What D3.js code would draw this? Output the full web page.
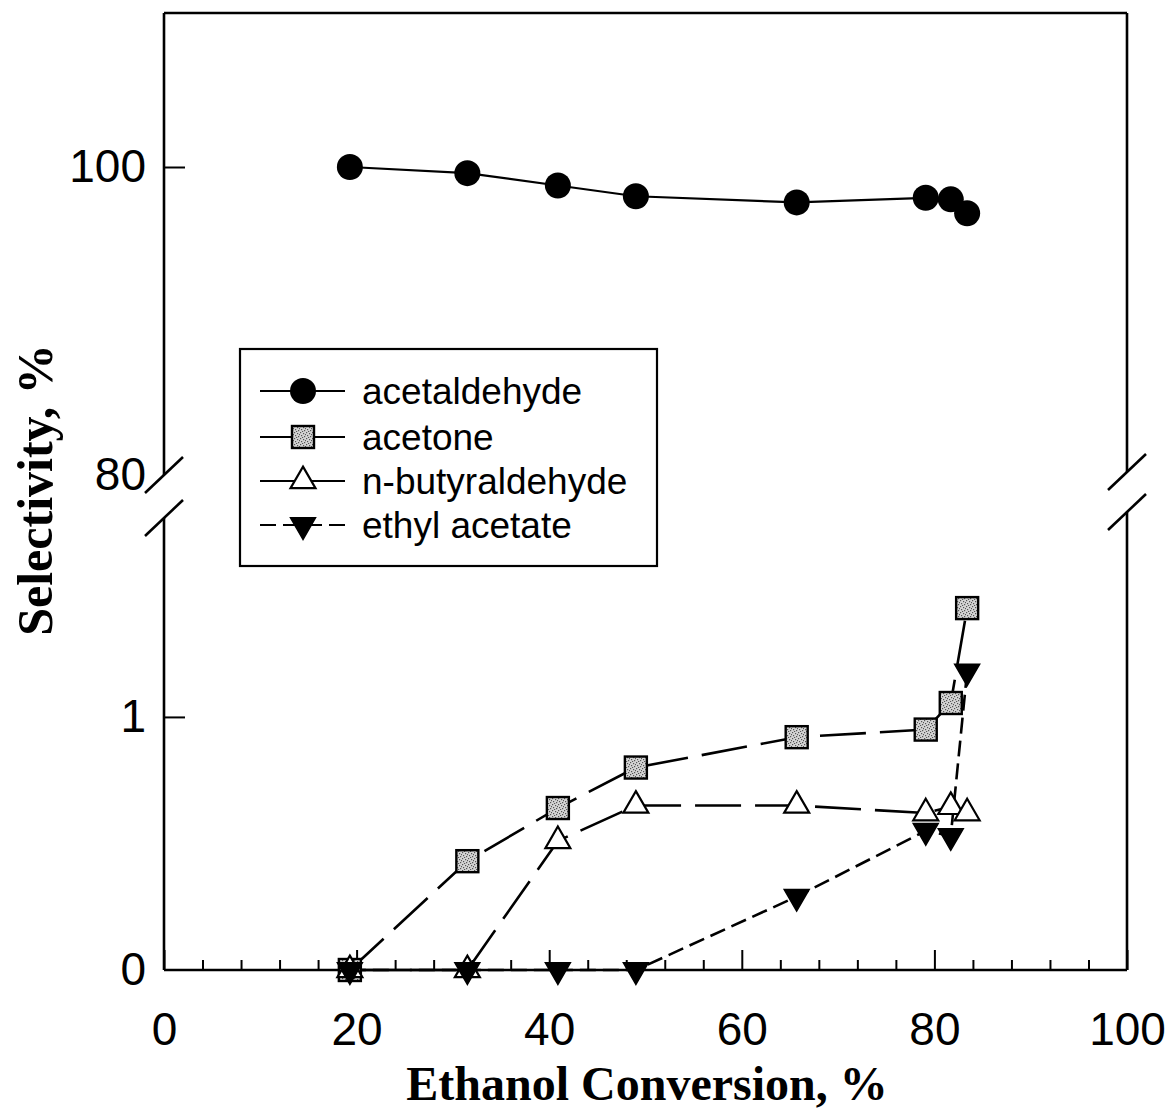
<!DOCTYPE html>
<html>
<head>
<meta charset="utf-8">
<script src="https://cdn.jsdelivr.net/npm/d3@7"></script>
<style>
  html, body { margin: 0; padding: 0; background: #fff; }
  svg { display: block; }
</style>
</head>
<body>
<svg id="chart" width="1170" height="1114"></svg>
<script>
// ---------- data ----------
const conversion = [19.3, 31.5, 40.9, 49.0, 65.7, 79.1, 81.7, 83.4];
const acetaldehyde = [100.0, 99.6, 98.8, 98.1, 97.7, 98.0, 97.9, 97.0];
const acetone = [0.0, 0.43, 0.64, 0.80, 0.92, 0.95, 1.055, 1.43];
const butyraldehyde = [0.0, 0.0, 0.51, 0.65, 0.65, 0.62, 0.645, 0.62];
const ethylAcetate = [0.0, 0.0, 0.0, 0.0, 0.29, 0.55, 0.53, 1.18];
const xTicks = [0, 20, 40, 60, 80, 100];
const yTopTicks = [100, 80];
const yBottomTicks = [1, 0];
const legendLabels = ["acetaldehyde", "acetone", "n-butyraldehyde", "ethyl acetate"];

// ---------- layout ----------
const svg = d3.select("#chart");
const L = 164, R = 1127, T = 13, B = 970;
const x = d3.scaleLinear([0, 100], [L, R]);
const yTop = d3.scaleLinear([80, 110], [475, T]);
const yBot = d3.scaleLinear([0, 1.79], [B, 517]);

const sans = "'Liberation Sans', Arial, sans-serif";
const serif = "'Liberation Serif', 'Times New Roman', serif";

// pattern for stippled square markers
const defs = svg.append("defs");
const pat = defs.append("pattern").attr("id", "stip").attr("patternUnits", "userSpaceOnUse")
  .attr("width", 6).attr("height", 6);
pat.append("rect").attr("width", 6).attr("height", 6).attr("fill", "#d4d4d4");
[[0,0],[3,1],[1,3],[4,4],[2,5],[5,2]].forEach(([a,b]) =>
  pat.append("rect").attr("x", a).attr("y", b).attr("width", 1.2).attr("height", 1.2).attr("fill", "#555"));

// ---------- frame ----------
const frame = svg.append("g").attr("stroke", "#000").attr("stroke-width", 2.6).attr("fill", "none");
frame.append("line").attr("x1", L).attr("x2", R).attr("y1", T).attr("y2", T);
frame.append("line").attr("x1", L).attr("x2", R).attr("y1", B).attr("y2", B);
// left axis (broken)
frame.append("line").attr("x1", L).attr("x2", L).attr("y1", T).attr("y2", 475);
frame.append("line").attr("x1", L).attr("x2", L).attr("y1", 518).attr("y2", B);
// right axis (broken)
frame.append("line").attr("x1", R).attr("x2", R).attr("y1", T).attr("y2", 472);
frame.append("line").attr("x1", R).attr("x2", R).attr("y1", 512).attr("y2", B);
// break marks
const brk = (cx, cy) => frame.append("line")
  .attr("x1", cx - 19).attr("y1", cy + 18).attr("x2", cx + 19).attr("y2", cy - 18);
brk(L, 475); brk(L, 518); brk(R, 472); brk(R, 512);

// ---------- x axis ticks ----------
const minor = d3.range(0, 101, 4).filter(v => v % 20 !== 0);
const gx = svg.append("g").attr("transform", `translate(0,${B})`)
  .call(d3.axisBottom(x).tickValues(xTicks).tickSizeInner(-20).tickSizeOuter(0).tickPadding(42)
    .tickFormat(d3.format("d")));
gx.select(".domain").remove();
gx.selectAll(".tick line").attr("stroke-width", 2);
gx.selectAll(".tick text").attr("font-family", sans).attr("font-size", 46).attr("fill", "#000");
svg.append("g").attr("transform", `translate(0,${B})`)
  .call(d3.axisBottom(x).tickValues(minor).tickSizeInner(-10).tickSizeOuter(0).tickFormat(""))
  .call(g => g.select(".domain").remove())
  .selectAll(".tick line").attr("stroke-width", 2);

// ---------- y axes ticks ----------
function yAxis(scale, vals, drawTicks) {
  const g = svg.append("g").attr("transform", `translate(${L},0)`)
    .call(d3.axisLeft(scale).tickValues(vals).tickSizeInner(-21).tickSizeOuter(0).tickPadding(18)
      .tickFormat(d3.format("d")));
  g.select(".domain").remove();
  g.selectAll(".tick line").attr("stroke-width", 2)
    .attr("stroke", d => drawTicks.includes(d) ? "#000" : "none");
  g.selectAll(".tick text").attr("font-family", sans).attr("font-size", 46).attr("fill", "#000");
}
yAxis(yTop, yTopTicks, [100]);
yAxis(yBot, yBottomTicks, [1]);

// ---------- series ----------
const rows = (vals) => conversion.map((c, i) => ({ x: c, y: vals[i] }));

// acetaldehyde (upper segment)
const lineTop = d3.line().x(d => x(d.x)).y(d => yTop(d.y));
svg.append("path").datum(rows(acetaldehyde)).attr("d", lineTop)
  .attr("fill", "none").attr("stroke", "#000").attr("stroke-width", 2.2);

const lineBot = d3.line().x(d => x(d.x)).y(d => yBot(d.y));
const series = [
  { vals: acetone, dash: "46,14", sym: "square" },
  { vals: butyraldehyde, dash: "46,14", sym: "tri" },
  { vals: ethylAcetate, dash: "16,7", sym: "inv" }
];
series.forEach(s => {
  svg.append("path").datum(rows(s.vals)).attr("d", lineBot)
    .attr("fill", "none").attr("stroke", "#000").attr("stroke-width", 2.6)
    .attr("stroke-dasharray", s.dash);
});

const triPath = d3.symbol(d3.symbolTriangle, 270)();
function drawMarker(g, sym, cx, cy) {
  if (sym === "circle") {
    g.append("circle").attr("cx", cx).attr("cy", cy).attr("r", 13).attr("fill", "#000");
  } else if (sym === "square") {
    g.append("rect").attr("x", cx - 11).attr("y", cy - 11).attr("width", 22).attr("height", 22)
      .attr("fill", "url(#stip)").attr("stroke", "#000").attr("stroke-width", 2.4);
  } else if (sym === "tri") {
    g.append("path").attr("d", triPath).attr("transform", `translate(${cx},${cy})`)
      .attr("fill", "#fff").attr("stroke", "#000").attr("stroke-width", 2.2);
  } else if (sym === "inv") {
    g.append("path").attr("d", triPath).attr("transform", `translate(${cx},${cy}) rotate(180)`)
      .attr("fill", "#000").attr("stroke", "#000").attr("stroke-width", 1.5);
  }
}
const mk = svg.append("g");
rows(acetaldehyde).forEach(d => drawMarker(mk, "circle", x(d.x), yTop(d.y)));
series.forEach(s => rows(s.vals).forEach(d => drawMarker(mk, s.sym, x(d.x), yBot(d.y))));

// ---------- legend ----------
const lg = svg.append("g");
lg.append("rect").attr("x", 240).attr("y", 349).attr("width", 417).attr("height", 217)
  .attr("fill", "#fff").attr("stroke", "#000").attr("stroke-width", 2.2);
const legStyle = [
  { sym: "circle", dash: null },
  { sym: "square", dash: null },
  { sym: "tri", dash: "40,8" },
  { sym: "inv", dash: "16,7" }
];
const legY = [391, 437, 481, 525];
legendLabels.forEach((lab, i) => {
  const y = legY[i];
  lg.append("line").attr("x1", 260).attr("x2", 345).attr("y1", y).attr("y2", y)
    .attr("stroke", "#000").attr("stroke-width", 2)
    .attr("stroke-dasharray", legStyle[i].dash);
  drawMarker(lg, legStyle[i].sym, 303, y);
  lg.append("text").attr("x", 362).attr("y", y).attr("dy", "0.36em")
    .attr("font-family", sans).attr("font-size", 37).attr("fill", "#000").text(lab);
});

// ---------- axis titles ----------
svg.append("text").attr("x", 647).attr("y", 1100).attr("text-anchor", "middle")
  .attr("font-family", serif).attr("font-weight", "bold").attr("font-size", 48).attr("fill", "#000")
  .text("Ethanol Conversion, %");
svg.append("text").attr("transform", "translate(52,490) rotate(-90)").attr("text-anchor", "middle")
  .attr("font-family", serif).attr("font-weight", "bold").attr("font-size", 50).attr("fill", "#000")
  .text("Selectivity, %");
</script>
</body>
</html>
